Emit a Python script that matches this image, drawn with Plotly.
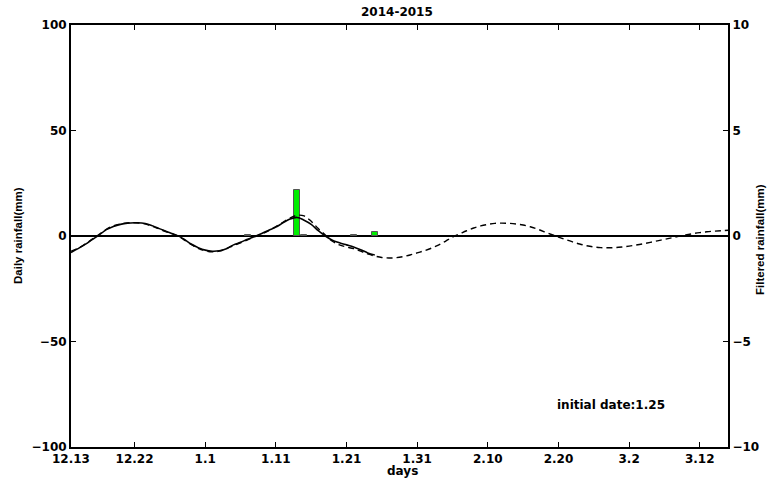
import plotly.graph_objects as go

# Tick labels (days since 12.13)
tick_days = [0, 9, 19, 29, 39, 49, 59, 69, 79, 89]
tick_labels = ["12.13", "12.22", "1.1", "1.11", "1.21", "1.31", "2.10", "2.20", "3.2", "3.12"]

# Daily rainfall (mm) bars
rain_days = [25, 32, 33, 40, 43]
rain_mm = [0.4, 21.6, 0.4, 0.3, 1.7]

# Filtered rainfall - observed (solid), days 0..43
obs_days = list(range(0, 44))
obs_vals = [-0.78, -0.60, -0.40, -0.17, 0.05, 0.30, 0.45, 0.55, 0.61, 0.63,
            0.62, 0.55, 0.42, 0.28, 0.15, 0.03, -0.15, -0.38, -0.55, -0.67,
            -0.72, -0.70, -0.60, -0.42, -0.30, -0.15, -0.02, 0.12, 0.27, 0.42,
            0.62, 0.80, 0.88, 0.75, 0.55, 0.25, 0.00, -0.20, -0.32, -0.42,
            -0.52, -0.65, -0.80, -0.90]

# Filtered rainfall - extended (dashed), days 0..93
ext_days = list(range(0, 94))
ext_vals = [-0.72, -0.58, -0.38, -0.15, 0.08, 0.32, 0.48, 0.57, 0.62, 0.63,
            0.60, 0.52, 0.40, 0.26, 0.14, 0.02, -0.18, -0.40, -0.58, -0.70,
            -0.75, -0.72, -0.60, -0.45, -0.32, -0.18, -0.04, 0.10, 0.26, 0.45,
            0.65, 0.85, 0.98, 0.95, 0.70, 0.35, 0.05, -0.25, -0.42, -0.52,
            -0.60, -0.72, -0.85, -0.95, -1.02, -1.04, -1.03, -0.98, -0.90, -0.80,
            -0.70, -0.58, -0.43, -0.25, -0.05, 0.10, 0.25, 0.38, 0.48, 0.55,
            0.60, 0.61, 0.60, 0.57, 0.52, 0.44, 0.33, 0.20, 0.07, -0.05,
            -0.17, -0.28, -0.38, -0.46, -0.52, -0.55, -0.56, -0.55, -0.52, -0.48,
            -0.43, -0.37, -0.30, -0.23, -0.16, -0.09, -0.02, 0.05, 0.11, 0.16,
            0.20, 0.23, 0.25, 0.27]

HFONT = "DejaVu Sans, sans-serif"
VFONT = "Liberation Sans, Arial, sans-serif"

W, H = 768, 479
ML, MT = 71, 25
MR = W - 728
MB = H - 447
PW, PH = W - ML - MR, H - MT - MB


def px(xp):
    return (xp - ML) / PW


def py(yp):
    return (H - MB - yp) / PH


fig = go.Figure()
fig.add_trace(go.Bar(x=rain_days, y=rain_mm, width=0.85,
                     marker=dict(color="#00ee00", line=dict(color="#555555", width=1)),
                     yaxis="y", showlegend=False))
fig.add_trace(go.Scatter(x=ext_days, y=ext_vals, mode="lines", yaxis="y2",
                         line=dict(color="black", width=1.4, dash="6px,4px", shape="spline"),
                         showlegend=False))
fig.add_trace(go.Scatter(x=obs_days, y=obs_vals, mode="lines", yaxis="y2",
                         line=dict(color="black", width=1.6, shape="spline"),
                         showlegend=False))

tickfont = dict(family=HFONT, size=12, weight="bold", color="black")

fig.update_layout(
    width=W, height=H,
    margin=dict(l=ML, r=MR, t=MT, b=MB),
    paper_bgcolor="white", plot_bgcolor="white",
    font=dict(family=HFONT, color="black"),
    xaxis=dict(range=[0, 93], tickvals=tick_days, ticktext=tick_labels,
               showline=True, linecolor="black", linewidth=2, mirror="ticks",
               ticks="inside", ticklen=5, tickcolor="black", showgrid=False, zeroline=False,
               tickfont=tickfont, automargin=False),
    yaxis=dict(range=[-100, 100], tickvals=[-100, -50, 0, 50, 100],
               showline=True, linecolor="black", linewidth=2,
               ticks="inside", ticklen=5, tickcolor="black", showgrid=False,
               zeroline=True, zerolinecolor="black", zerolinewidth=1.5,
               tickfont=tickfont, automargin=False),
    yaxis2=dict(range=[-10, 10], tickvals=[-10, -5, 0, 5, 10], overlaying="y", side="right",
                showline=True, linecolor="black", linewidth=2,
                ticks="inside", ticklen=5, tickcolor="black", showgrid=False, zeroline=False,
                tickfont=tickfont, automargin=False),
    bargap=0,
)

ann = [
    dict(text="2014-2015", x=px(396.5), y=py(12), font=dict(family=HFONT, size=12, weight="bold", color="black")),
    dict(text="days", x=px(402), y=py(471), font=dict(family=HFONT, size=12, weight="bold", color="black")),
    dict(text="initial date:1.25", x=px(611), y=py(405), font=dict(family=HFONT, size=12, weight="bold", color="black")),
    dict(text="Daily rainfall(mm)", x=px(18), y=py(236), textangle=-90,
         font=dict(family=VFONT, size=11.5, weight="bold", color="black")),
    dict(text="Filtered rainfall(mm)", x=px(760), y=py(240), textangle=-90,
         font=dict(family=VFONT, size=11.5, weight="bold", color="black")),
]
for a in ann:
    fig.add_annotation(xref="paper", yref="paper", xanchor="center", yanchor="middle",
                       showarrow=False, **a)

fig.write_html("out.html", config={"displayModeBar": False},
               post_script="document.body.style.margin='0px';")
